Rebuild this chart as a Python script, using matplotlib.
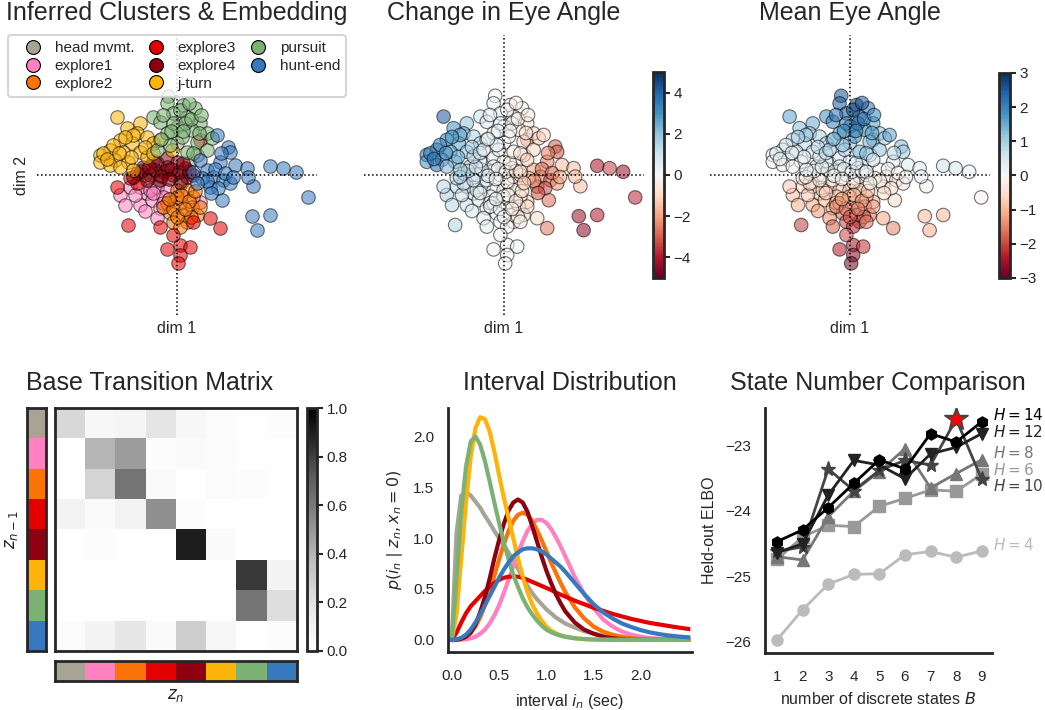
import numpy as np
import matplotlib
matplotlib.use("Agg")
import matplotlib.pyplot as plt
from matplotlib.colors import ListedColormap
from matplotlib.lines import Line2D

plt.rcParams['font.family'] = ['Liberation Sans', 'DejaVu Sans']
plt.rcParams['axes.edgecolor'] = '#262626'
plt.rcParams['text.color'] = '#262626'
plt.rcParams['axes.labelcolor'] = '#262626'
plt.rcParams['xtick.color'] = '#262626'
plt.rcParams['ytick.color'] = '#262626'

# ---------------- data ----------------
state_names = ["head mvmt.", "explore1", "explore2", "explore3",
               "explore4", "j-turn", "pursuit", "hunt-end"]
state_colors = ["xkcd:greyish", "xkcd:pink", "xkcd:orange", "xkcd:red",
                "xkcd:crimson", "xkcd:amber", "xkcd:faded green", "xkcd:windows blue"]

# embedding points per cluster: columns = dim1, dim2, change in eye angle, mean eye angle
head_mvmt = np.array([
    [-0.3, 0.1, 0.3, 0.0], [0.1, -0.2, -0.1, -0.4], [-0.5, -0.3, 0.5, -0.5],
    [0.3, 0.3, -0.3, 0.6], [-0.2, -0.6, 0.1, -0.9], [0.5, 0.5, -0.5, 0.8],
    [0.0, 0.8, 0.0, 1.2], [-0.8, 0.0, 0.9, 0.1]])
explore1 = np.array([
    [-1.43, -0.5, 1.6, -0.9], [-1.18, -0.29, 1.3, -0.6], [-0.93, -0.75, 1.0, -1.1],
    [-0.76, -0.46, 0.8, -0.8], [-0.51, -0.29, 0.6, -0.6], [-0.63, -0.63, 0.7, -1.0],
    [-0.43, -0.83, 0.4, -1.3], [-0.51, -1.08, 0.5, -1.4], [-0.26, -0.38, 0.2, -0.7],
    [0.58, -0.67, -1.2, -0.9], [-0.93, -0.29, 1.1, -0.5], [-0.68, -0.38, 0.7, -0.7],
    [-0.34, -0.54, 0.3, -0.9], [-1.05, -0.5, 1.2, -0.8], [-0.8, -0.9, 0.8, -1.3],
    [-0.6, -0.45, 0.6, -0.7], [-1.3, -0.75, 1.4, -1.1], [-0.35, -0.7, 0.3, -1.1]])
explore2 = np.array([
    [-0.01, -0.38, 0.0, -0.9], [0.24, -0.38, -0.4, -1.0], [0.41, -0.54, -0.7, -1.2],
    [-0.26, -0.71, 0.2, -1.3], [0.08, -0.71, -0.1, -1.5], [0.37, -0.79, -0.5, -1.4],
    [-0.18, -0.96, 0.1, -1.7], [0.16, -1.0, -0.2, -1.9], [0.49, -1.0, -0.8, -1.6],
    [-0.09, -1.17, 0.0, -2.0], [0.24, -1.17, -0.3, -2.1], [0.08, -1.29, -0.1, -2.3],
    [-0.34, -0.79, 0.3, -1.4], [0.58, -0.79, -0.9, -1.3], [-0.01, -0.54, 0.0, -1.1],
    [0.1, -0.5, -0.1, -1.1], [0.3, -0.65, -0.5, -1.3], [-0.1, -0.85, 0.1, -1.6],
    [0.35, -1.05, -0.5, -1.8], [0.0, -1.05, 0.0, -1.9], [0.2, -0.85, -0.3, -1.6],
    [-0.2, -0.6, 0.2, -1.2], [0.45, -0.4, -0.8, -0.9]])
explore3 = np.array([
    [-1.51, -0.29, 1.4, -0.8], [-1.22, -1.25, 1.5, -2.1], [-0.26, -1.86, 0.1, -2.4],
    [0.08, -1.75, -0.2, -2.5], [0.33, -1.79, 0.2, -2.2], [0.08, -2.0, 0.0, -2.7],
    [0.03, -2.21, 0.0, -2.9], [-0.09, -1.5, 0.1, -2.0], [0.83, -1.08, -1.0, -1.2],
    [1.08, -1.33, -2.6, -1.5], [0.58, 0.88, -2.8, 1.6], [-1.01, -0.21, 1.0, -0.6],
    [-0.43, -1.29, 0.5, -1.8], [0.41, -1.17, -0.3, -1.6], [-1.18, -0.08, 1.2, -0.4]])
explore4 = np.array([
    [-0.84, 0.21, 1.2, 0.2], [-0.51, 0.29, 0.6, 0.4], [-0.26, 0.42, 0.3, 0.5],
    [-0.01, 0.33, -0.1, 0.4], [0.2, 0.17, -0.5, 0.2], [-1.01, 0.04, 1.4, -0.1],
    [-0.68, 0.0, 0.8, 0.0], [-0.34, 0.08, 0.4, 0.1], [-0.09, 0.0, 0.0, 0.0],
    [0.24, -0.04, -0.6, -0.1], [-0.76, -0.13, 0.9, -0.3], [-0.43, -0.13, 0.5, -0.2],
    [0.08, -0.17, -0.3, -0.3], [-0.26, 0.21, 0.3, 0.3], [-0.55, 0.13, 0.7, 0.2],
    [0.41, 0.0, -1.0, 0.0], [-0.6, 0.35, 0.7, 0.4], [-0.15, 0.15, 0.2, 0.2],
    [0.05, 0.08, -0.2, 0.1], [-0.4, -0.02, 0.5, 0.0], [-0.9, 0.1, 1.3, 0.0],
    [0.3, 0.1, -0.7, 0.1], [-0.2, -0.1, 0.2, -0.2], [-0.7, 0.2, 0.9, 0.2],
    [0.15, 0.3, -0.4, 0.4], [-1.1, -0.05, 1.5, -0.2]])
j_turn = np.array([
    [-1.51, 1.46, 4.2, 1.6], [-0.93, 1.29, 2.0, 1.5], [-1.26, 1.17, 3.0, 1.3],
    [-1.01, 1.04, 2.5, 1.1], [-0.76, 0.96, 1.6, 1.0], [-1.43, 0.88, 3.2, 0.8],
    [-1.13, 0.79, 2.6, 0.8], [-0.59, 0.79, 1.2, 0.9], [-1.68, 0.63, 3.4, 0.6],
    [-1.34, 0.58, 2.8, 0.5], [-0.93, 0.58, 2.0, 0.6], [-1.93, 0.5, 3.6, 0.3],
    [-1.55, 0.38, 3.3, 0.3], [-1.22, 0.33, 2.4, 0.2], [-1.93, 0.33, 3.0, 0.1],
    [-1.68, 0.25, 3.8, 0.1], [-1.43, 0.21, 2.2, 0.0], [-1.09, 0.13, 1.8, 0.1],
    [-0.76, 0.46, 1.4, 0.5], [-0.43, 0.88, 0.8, 1.0], [-0.13, 0.63, 0.4, 0.9],
    [-1.84, 0.54, 3.5, 0.3], [-1.1, 1.0, 2.7, 1.2], [-1.6, 0.75, 3.5, 0.6],
    [-1.3, 0.95, 3.0, 1.0], [-0.8, 0.7, 1.7, 0.8], [-1.75, 0.4, 3.6, 0.2],
    [-1.15, 0.45, 2.5, 0.3], [-0.6, 0.55, 1.2, 0.7], [-1.45, 0.55, 3.1, 0.4]])
pursuit = np.array([
    [-0.22, 1.98, 0.2, 2.6], [-0.26, 1.79, 0.3, 2.5], [0.16, 1.75, -0.2, 2.8],
    [0.45, 1.67, 0.0, 2.2], [-0.09, 1.54, 0.4, 2.6], [-0.59, 1.46, 1.0, 1.8],
    [-0.43, 1.33, 0.6, 2.0], [0.24, 1.46, -0.3, 2.4], [0.58, 1.29, -0.6, 1.6],
    [0.0, 1.21, 0.2, 2.3], [0.37, 1.13, -0.4, 2.0], [0.74, 1.04, -0.8, 1.3],
    [-0.26, 1.04, 0.5, 1.7], [0.12, 0.96, 0.0, 1.9], [0.49, 0.83, -0.7, 1.4],
    [-0.51, 0.63, 0.6, 1.0], [0.74, 0.63, -1.0, 1.2], [0.24, 0.58, -0.3, 1.5],
    [-0.18, 0.75, 0.3, 1.3], [0.41, 0.54, -0.5, 1.2], [0.87, 0.92, -1.3, 1.1],
    [0.08, 1.63, 0.1, 2.7], [-0.09, 1.29, 0.4, 2.1], [0.2, 1.29, -0.1, 2.4],
    [0.3, 1.8, -0.3, 2.6], [-0.35, 1.5, 0.5, 2.2], [0.35, 1.4, -0.4, 2.2],
    [0.6, 1.5, -0.5, 2.0], [-0.15, 1.1, 0.3, 1.9], [0.15, 1.1, 0.0, 2.1],
    [0.55, 1.05, -0.7, 1.6], [-0.4, 0.9, 0.5, 1.4]])
hunt_end = np.array([
    [0.99, 1.0, -1.0, 1.6], [1.28, 0.71, -3.0, 1.3], [1.33, 0.58, -3.2, 1.1],
    [1.45, 0.25, -1.5, 0.4], [1.08, 0.33, -2.5, 0.3], [1.74, 0.17, -1.5, 0.3],
    [2.33, 0.23, -4.2, 0.6], [2.64, 0.17, -3.5, 0.5], [2.98, 0.08, -4.3, 0.2],
    [3.28, -0.56, -3.8, -0.1], [1.91, -0.28, -1.5, -0.2], [1.78, -0.04, -1.6, 0.1],
    [1.87, -1.03, -4.3, -1.0], [2.33, -1.0, -4.0, -1.0], [1.99, -1.38, -4.5, -1.1],
    [1.12, -0.63, -2.8, -0.6], [0.74, 0.13, -2.0, 0.0], [0.91, -0.04, -2.6, -0.2],
    [1.16, -0.13, -3.2, -0.4], [1.33, -0.21, -2.2, -0.3], [0.58, 0.38, -1.2, 0.4],
    [0.83, -0.29, -3.0, -0.5], [1.03, -0.33, -3.3, -0.3], [0.62, -0.08, -1.6, -0.1],
    [0.41, 0.08, -0.8, 0.1], [0.75, -0.15, -2.4, -0.2], [0.95, 0.15, -2.8, 0.1],
    [1.2, 0.05, -3.0, -0.1], [0.5, -0.2, -1.4, -0.2], [1.4, -0.05, -2.0, -0.1],
    [0.85, -0.45, -3.2, -0.6], [1.1, 0.55, -2.6, 0.8]])
clusters = [head_mvmt, explore1, explore2, explore3, explore4, j_turn, pursuit, hunt_end]

# base transition matrix (rows z_{n-1}, cols z_n)
trans = np.array([
    [0.25, 0.07, 0.08, 0.18, 0.07, 0.02, 0.01, 0.02],
    [0.00, 0.40, 0.48, 0.02, 0.04, 0.03, 0.01, 0.01],
    [0.00, 0.27, 0.62, 0.04, 0.00, 0.03, 0.02, 0.01],
    [0.10, 0.04, 0.10, 0.52, 0.02, 0.01, 0.00, 0.01],
    [0.01, 0.02, 0.01, 0.01, 0.90, 0.04, 0.00, 0.01],
    [0.00, 0.00, 0.00, 0.00, 0.01, 0.01, 0.82, 0.10],
    [0.00, 0.00, 0.01, 0.01, 0.01, 0.01, 0.62, 0.22],
    [0.03, 0.09, 0.17, 0.04, 0.30, 0.06, 0.01, 0.02]])

# interval densities p(i_n | z_n, x_n=0)
interval = [0.0, 0.05, 0.1, 0.15, 0.2, 0.25, 0.3, 0.35, 0.4, 0.45, 0.5, 0.55, 0.6,
            0.65, 0.7, 0.75, 0.8, 0.85, 0.9, 0.95, 1.0, 1.05, 1.1, 1.15, 1.2,
            1.3, 1.4, 1.5, 1.6, 1.7, 1.8, 1.9, 2.0, 2.1, 2.2, 2.3, 2.4, 2.5]
dens_head = [0, 1.05, 1.42, 1.45, 1.42, 1.36, 1.3, 1.22, 1.15, 1.07, 1.0, 0.93, 0.86,
             0.78, 0.7, 0.61, 0.53, 0.46, 0.4, 0.35, 0.3, 0.26, 0.22, 0.19, 0.16,
             0.12, 0.085, 0.06, 0.042, 0.03, 0.02, 0.014, 0.01, 0.007, 0.005, 0.003, 0.002, 0.001]
dens_exp1 = [0, 0, 0.002, 0.005, 0.015, 0.03, 0.06, 0.1, 0.16, 0.24, 0.34, 0.46, 0.59,
             0.72, 0.85, 0.97, 1.07, 1.14, 1.18, 1.18, 1.15, 1.09, 1.01, 0.92, 0.82,
             0.62, 0.45, 0.31, 0.2, 0.13, 0.08, 0.05, 0.03, 0.017, 0.01, 0.005, 0.003, 0.001]
dens_exp2 = [0, 0, 0.01, 0.03, 0.07, 0.13, 0.22, 0.34, 0.48, 0.63, 0.79, 0.94, 1.07,
             1.17, 1.23, 1.25, 1.23, 1.17, 1.08, 0.98, 0.87, 0.76, 0.66, 0.56, 0.47,
             0.32, 0.21, 0.13, 0.08, 0.05, 0.03, 0.015, 0.008, 0.004, 0.002, 0.001, 0, 0]
dens_exp3 = [0, 0.07, 0.17, 0.26, 0.33, 0.38, 0.43, 0.48, 0.52, 0.56, 0.59, 0.61, 0.62,
             0.625, 0.62, 0.61, 0.59, 0.57, 0.55, 0.53, 0.51, 0.49, 0.465, 0.445, 0.425,
             0.385, 0.35, 0.315, 0.285, 0.255, 0.23, 0.205, 0.185, 0.165, 0.15, 0.135, 0.12, 0.107]
dens_exp4 = [0, 0, 0.01, 0.03, 0.07, 0.15, 0.27, 0.42, 0.6, 0.8, 0.98, 1.14, 1.27,
             1.35, 1.38, 1.35, 1.26, 1.12, 0.97, 0.82, 0.68, 0.56, 0.45, 0.36, 0.28,
             0.17, 0.1, 0.06, 0.03, 0.015, 0.007, 0.003, 0.001, 0, 0, 0, 0, 0]
dens_jturn = [0, 0.25, 0.8, 1.35, 1.8, 2.08, 2.19, 2.17, 2.05, 1.85, 1.62, 1.4, 1.2,
              1.0, 0.8, 0.62, 0.47, 0.35, 0.26, 0.19, 0.13, 0.09, 0.065, 0.045, 0.03,
              0.015, 0.007, 0.003, 0.001, 0, 0, 0, 0, 0, 0, 0, 0, 0]
dens_pursuit = [0, 0.6, 1.25, 1.7, 1.95, 2.0, 1.92, 1.76, 1.56, 1.35, 1.15, 0.96, 0.79,
                0.64, 0.52, 0.41, 0.32, 0.25, 0.19, 0.14, 0.1, 0.075, 0.055, 0.04, 0.03,
                0.015, 0.007, 0.003, 0.001, 0, 0, 0, 0, 0, 0, 0, 0, 0]
dens_hunt = [0, 0.005, 0.02, 0.05, 0.1, 0.17, 0.25, 0.34, 0.43, 0.52, 0.61, 0.69, 0.76,
             0.82, 0.86, 0.89, 0.9, 0.9, 0.89, 0.87, 0.84, 0.8, 0.76, 0.72, 0.67,
             0.56, 0.45, 0.35, 0.27, 0.21, 0.16, 0.125, 0.095, 0.072, 0.055, 0.042, 0.032, 0.025]
densities = [dens_head, dens_exp1, dens_exp2, dens_exp3, dens_exp4, dens_jturn, dens_pursuit, dens_hunt]

# held-out ELBO vs number of discrete states
num_states = [1, 2, 3, 4, 5, 6, 7, 8, 9]
elbo_H4 = [-25.97, -25.51, -25.12, -24.97, -24.96, -24.67, -24.62, -24.71, -24.61]
elbo_H6 = [-24.74, -24.4, -24.22, -24.24, -23.93, -23.81, -23.68, -23.7, -23.44]
elbo_H8 = [-24.7, -24.75, -24.09, -23.7, -23.4, -23.05, -23.65, -23.43, -23.22]
elbo_H10 = [-24.62, -24.55, -23.36, -23.69, -23.38, -23.23, -23.3, -22.6, -23.52]
elbo_H12 = [-24.64, -24.5, -23.76, -23.23, -23.3, -23.51, -23.13, -23.03, -22.82]
elbo_H14 = [-24.47, -24.29, -23.95, -23.58, -23.22, -23.36, -22.82, -22.95, -22.64]
H_values = [4, 6, 8, 10, 12, 14]
elbos = [elbo_H4, elbo_H6, elbo_H8, elbo_H10, elbo_H12, elbo_H14]
H_markers = ['o', 's', '^', '*', 'v', 'h']
H_colors = ['#bbbbbb', '#999999', '#777777', '#444444', '#222222', '#000000']
H_label_y = [-24.52, -23.38, -23.12, -23.62, -22.8, -22.54]

# ---------------- figure ----------------
W, H = 1045, 710
fig = plt.figure(figsize=(W / 100, H / 100), dpi=100)


def add_ax(l, t, r, b):
    return fig.add_axes([l / W, 1 - b / H, (r - l) / W, (b - t) / H])


def title(x, y, s):
    fig.text(x / W, 1 - y / H, s, ha='center', va='center', fontsize=18)


def embed_axes(ax):
    ax.set_xlim(-3.5, 3.5)
    ax.set_ylim(-3.5, 3.5)
    ax.set_xticks([])
    ax.set_yticks([])
    for s in ax.spines.values():
        s.set_visible(False)
    ax.axhline(0, ls=':', color='k', lw=1.1, zorder=5)
    ax.axvline(0, ls=':', color='k', lw=1.1, zorder=5)
    ax.set_xlabel("dim 1", fontsize=11.5, labelpad=4)


def style_cbar(cb):
    cb.outline.set_linewidth(2)
    cb.outline.set_edgecolor('#262626')
    cb.ax.tick_params(labelsize=11, length=4, width=1.5, pad=3)


all_pts = np.vstack(clusters)
pt_size = 95

# panel 1: clusters
ax1 = add_ax(37, 35, 317, 315)
for pts, c in zip(clusters, state_colors):
    ax1.scatter(pts[:, 0], pts[:, 1], s=pt_size, color=c, alpha=0.55,
                edgecolors='k', linewidths=0.8)
embed_axes(ax1)
ax1.set_ylabel("dim 2", fontsize=11.5, labelpad=6)
handles = [Line2D([], [], ls='none', marker='o', ms=10, mfc=c, mec='k', mew=0.8)
           for c in state_colors]
leg = fig.legend(handles, state_names, ncol=3, loc='upper left',
                 bbox_to_anchor=(8 / W, 1 - 35 / H), borderaxespad=0,
                 fontsize=11, handlelength=2.5, handletextpad=0.15,
                 columnspacing=0.2, labelspacing=0.25, borderpad=0.4,
                 frameon=True, fancybox=True)
leg.get_frame().set_edgecolor('#cccccc')
leg.get_frame().set_linewidth(1.5)
title(177, 13, "Inferred Clusters & Embedding")

# panel 2: change in eye angle
ax2 = add_ax(364, 35, 644, 315)
sc2 = ax2.scatter(all_pts[:, 0], all_pts[:, 1], c=all_pts[:, 2], cmap='RdBu',
                  vmin=-5, vmax=5, s=pt_size, alpha=0.55, edgecolors='k', linewidths=0.8)
embed_axes(ax2)
cax2 = add_ax(653, 72, 664, 278)
cb2 = fig.colorbar(sc2, cax=cax2, ticks=[-4, -2, 0, 2, 4])
cb2.solids.set_alpha(1)
style_cbar(cb2)
title(504, 13, "Change in Eye Angle")

# panel 3: mean eye angle
ax3 = add_ax(710, 35, 990, 315)
sc3 = ax3.scatter(all_pts[:, 0], all_pts[:, 1], c=all_pts[:, 3], cmap='RdBu',
                  vmin=-3, vmax=3, s=pt_size, alpha=0.55, edgecolors='k', linewidths=0.8)
embed_axes(ax3)
cax3 = add_ax(999, 73, 1010, 278)
cb3 = fig.colorbar(sc3, cax=cax3, ticks=[-3, -2, -1, 0, 1, 2, 3])
cb3.solids.set_alpha(1)
style_cbar(cb3)
title(850, 13, "Mean Eye Angle")

# panel 4: transition matrix
state_cmap = ListedColormap(state_colors)
axT = add_ax(55, 408, 297, 651)
imT = axT.imshow(trans, cmap='Greys', vmin=0, vmax=1, aspect='auto',
                 interpolation='nearest')
axL = add_ax(27, 408, 46, 651)
axL.imshow(np.arange(8)[:, None], cmap=state_cmap, aspect='auto', vmin=-0.5, vmax=7.5)
axB = add_ax(55, 661, 297, 681)
axB.imshow(np.arange(8)[None, :], cmap=state_cmap, aspect='auto', vmin=-0.5, vmax=7.5)
for a in (axT, axL, axB):
    a.set_xticks([])
    a.set_yticks([])
    for s in a.spines.values():
        s.set_linewidth(2)
        s.set_edgecolor('#262626')
caxT = add_ax(307, 408, 317, 651)
cbT = fig.colorbar(imT, cax=caxT, ticks=[0, 0.2, 0.4, 0.6, 0.8, 1.0], format='%.1f')
style_cbar(cbT)
fig.text(12 / W, 1 - 530 / H, "$z_{n-1}$", rotation=90, ha='center', va='center', fontsize=12)
fig.text(176 / W, 1 - 696 / H, "$z_n$", ha='center', va='center', fontsize=12)
title(150, 383, "Base Transition Matrix")

# panel 5: interval distribution
ax5 = add_ax(448, 408, 692, 652)
for d, c in zip(densities, state_colors):
    ax5.plot(interval, d, color=c, lw=3)
ax5.set_xlim(-0.04, 2.54)
ax5.set_ylim(-0.12, 2.28)
ax5.set_xticks([0.0, 0.5, 1.0, 1.5, 2.0])
ax5.set_yticks([0.0, 0.5, 1.0, 1.5, 2.0])
ax5.set_xticklabels(["0.0", "0.5", "1.0", "1.5", "2.0"])
ax5.set_yticklabels(["0.0", "0.5", "1.0", "1.5", "2.0"])
ax5.set_xlabel("interval $i_n$ (sec)", fontsize=11.5, labelpad=7)
ax5.set_ylabel("$p(i_n \\mid z_n, x_n=0)$", fontsize=11.5, labelpad=6)
title(570, 383, "Interval Distribution")

# panel 6: state number comparison
ax6 = add_ax(765, 408, 992, 653)
for h, e, m, c, ly in zip(H_values, elbos, H_markers, H_colors, H_label_y):
    ms = 11 if m == '*' else 8
    ax6.plot(num_states, e, marker=m, color=c, lw=2, ms=ms)
    ax6.text(9.43, ly, "$H=%d$" % h, color=c, fontsize=11, va='center', ha='left',
             clip_on=False)
best = elbos[3]
ax6.plot(8, best[7], marker='*', color=H_colors[3], ms=18, ls='none')
ax6.plot(8, best[7], marker='*', color='red', ms=10, ls='none')
ax6.set_xlim(0.53, 9.4)
ax6.set_ylim(-26.17, -22.43)
ax6.set_xticks(num_states)
ax6.set_yticks([-26, -25, -24, -23])
ax6.set_xlabel("number of discrete states $B$", fontsize=11.5, labelpad=5)
ax6.set_ylabel("Held-out ELBO", fontsize=11.5, labelpad=6)
title(878, 383, "State Number Comparison")

for a in (ax5, ax6):
    a.spines['top'].set_visible(False)
    a.spines['right'].set_visible(False)
    a.spines['left'].set_linewidth(2)
    a.spines['bottom'].set_linewidth(2)
    a.tick_params(length=0, labelsize=11)
    a.tick_params(axis='x', pad=12)
    a.tick_params(axis='y', pad=10)

fig.savefig("out.png", dpi=100)
